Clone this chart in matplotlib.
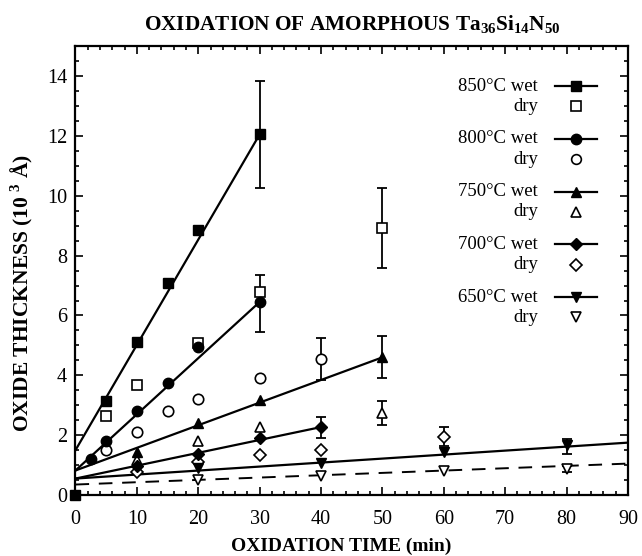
import matplotlib
matplotlib.use("Agg")
import matplotlib.pyplot as plt
from matplotlib.ticker import MultipleLocator

plt.rcParams.update({
    "font.family": ["Liberation Serif", "DejaVu Serif"],
    "mathtext.fontset": "custom",
    "mathtext.rm": "Liberation Serif",
    "mathtext.bf": "Liberation Serif:bold",
})

# ---- data (time in min, thickness in 10^3 A) ----
temps = ["850", "800", "750", "700", "650"]
markers = ["s", "o", "^", "D", "v"]

wet_t = {
    "850": [0, 5, 10, 15, 20, 30],
    "800": [2.5, 5, 10, 15, 20, 30],
    "750": [10, 20, 30, 50],
    "700": [10, 20, 30, 40],
    "650": [20, 40, 60, 80],
}
wet_y = {
    "850": [0.0, 3.15, 5.12, 7.1, 8.85, 12.05],
    "800": [1.2, 1.8, 2.82, 3.75, 4.96, 6.45],
    "750": [1.45, 2.4, 3.17, 4.6],
    "700": [0.98, 1.38, 1.9, 2.27],
    "650": [0.9, 1.07, 1.45, 1.68],
}
dry_t = {
    "850": [5, 10, 20, 30, 50],
    "800": [5, 10, 15, 20, 30, 40],
    "750": [10, 20, 30, 50],
    "700": [10, 20, 30, 40, 60],
    "650": [20, 40, 60, 80],
}
dry_y = {
    "850": [2.65, 3.68, 5.08, 6.8, 8.92],
    "800": [1.5, 2.12, 2.82, 3.22, 3.92, 4.55],
    "750": [1.17, 1.8, 2.26, 2.74],
    "700": [0.77, 1.1, 1.33, 1.5, 1.95],
    "650": [0.5, 0.64, 0.8, 0.88],
}

# fitted lines (end points)
fit_wet_t = {"850": [0, 30], "800": [0, 30], "750": [0, 50], "700": [0, 40], "650": [0, 90]}
fit_wet_y = {"850": [1.5, 12.05], "800": [0.82, 6.45], "750": [0.82, 4.6],
             "700": [0.55, 2.27], "650": [0.55, 1.75]}
fit_dry650_t = [0, 90]
fit_dry650_y = [0.35, 1.05]

# error bars
err_t = [30, 30, 30, 40, 50, 50, 50, 40, 60, 80, 80]
err_y = [12.05, 6.8, 6.45, 4.55, 8.92, 4.6, 2.74, 2.27, 1.95, 1.68, 0.88]
err_lo = [1.8, 0.0, 1.0, 0.7, 1.35, 0.7, 0.4, 0.35, 0.32, 0.3, 0.1]
err_hi = [1.8, 0.55, 0.0, 0.7, 1.35, 0.7, 0.4, 0.35, 0.32, 0.2, 0.1]

fig = plt.figure(figsize=(6.42, 5.56), dpi=100)
ax = fig.add_axes([0.1176, 0.1097, 0.8604, 0.8073])

ax.errorbar(err_t, err_y, yerr=[err_lo, err_hi], fmt="none", ecolor="black",
            elinewidth=1.3, capsize=3.5, capthick=1.3, zorder=2)

for temp, mk in zip(temps, markers):
    ax.plot(fit_wet_t[temp], fit_wet_y[temp], color="black", lw=1.6, zorder=3)
ax.plot(fit_dry650_t, fit_dry650_y, color="black", lw=1.4, ls=(0, (7, 5)), zorder=3)

for temp, mk in zip(temps, markers):
    ms = 6.5 if mk == "D" else 7.5
    ax.plot(dry_t[temp], dry_y[temp], ls="none", marker=mk, ms=ms,
            mfc="white", mec="black", mew=1.2, zorder=4)
    ax.plot(wet_t[temp], wet_y[temp], ls="none", marker=mk, ms=ms,
            mfc="black", mec="black", zorder=5, clip_on=False)

# legend drawn by hand
for i, (temp, mk) in enumerate(zip(temps, markers)):
    yw = 0.911 - i * 0.1175
    yd = yw - 0.045
    ms = 6.5 if mk == "D" else 7.5
    ax.text(0.837, yw, f"{temp}°C wet", transform=ax.transAxes, ha="right",
            va="center", fontsize=13.5)
    ax.text(0.837, yd, "dry", transform=ax.transAxes, ha="right",
            va="center", fontsize=13.5)
    ax.plot([0.868, 0.944], [yw, yw], color="black", lw=1.6, transform=ax.transAxes)
    ax.plot([0.906], [yw], marker=mk, ms=ms, color="black", transform=ax.transAxes)
    ax.plot([0.906], [yd], marker=mk, ms=ms - 0.5, mfc="white", mec="black",
            mew=1.2, transform=ax.transAxes)

ax.set_xlim(0, 90)
ax.set_ylim(0, 15)
ax.xaxis.set_major_locator(MultipleLocator(10))
ax.xaxis.set_minor_locator(MultipleLocator(2))
ax.yaxis.set_major_locator(MultipleLocator(2))
ax.yaxis.set_minor_locator(MultipleLocator(0.5))
ax.tick_params(which="both", direction="in", top=True, right=True, width=1.2)
ax.tick_params(which="major", length=6, labelsize=14.5, pad=6)
ax.tick_params(axis="x", which="major", pad=11)
ax.tick_params(which="minor", length=3)
for sp in ax.spines.values():
    sp.set_linewidth(1.6)

fig.text(352 / 642, 1 - 30 / 556,
         r"OXIDATION OF AMORPHOUS Ta$_{\mathbf{36}}$Si$_{\mathbf{14}}$N$_{\mathbf{50}}$",
         ha="center", va="baseline", fontsize=15.3, fontweight="bold")
fig.text(341 / 642, 1 - 546 / 556, "OXIDATION TIME (min)", ha="center",
         va="center", fontsize=14, fontweight="bold")
fig.text(22 / 642, 1 - 293 / 556, r"OXIDE THICKNESS (10 $^{\mathbf{3}}$ Å)",
         ha="center", va="center", rotation=90, fontsize=15.5, fontweight="bold")

fig.savefig("out.png", dpi=100)
